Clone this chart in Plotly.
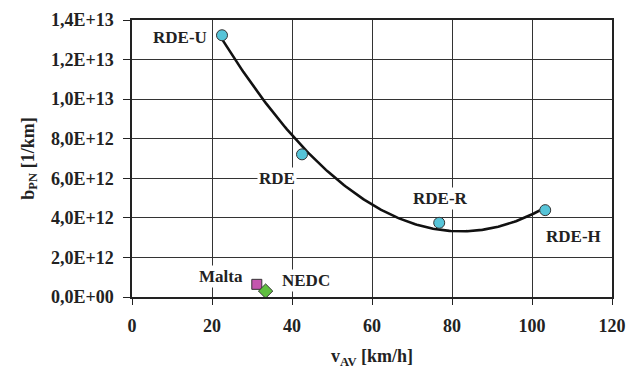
import numpy as np
import plotly.graph_objects as go

# RDE tests (circles)
rde_names = ["RDE-U", "RDE", "RDE-R", "RDE-H"]
rde_v = [22.5, 42.5, 76.8, 103.3]
rde_b = [13.23e12, 7.21e12, 3.75e12, 4.39e12]

# Malta (square)
malta_v = [31.2]
malta_b = [0.64e12]

# NEDC (diamond)
nedc_v = [33.4]
nedc_b = [0.30e12]

y_tickvals = [0, 2e12, 4e12, 6e12, 8e12, 10e12, 12e12, 14e12]
y_ticktext = ["0,0E+00", "2,0E+12", "4,0E+12", "6,0E+12", "8,0E+12", "1,0E+13", "1,2E+13", "1,4E+13"]
x_tickvals = [0, 20, 40, 60, 80, 100, 120]
x_ticktext = ["0", "20", "40", "60", "80", "100", "120"]

FONT = "Liberation Serif"

# 2nd-order polynomial trend line through the RDE points
coef = np.polyfit(rde_v, np.array(rde_b) / 1e12, 2)
xs = np.linspace(min(rde_v), max(rde_v), 200)
ys = np.polyval(coef, xs) * 1e12

fig = go.Figure()
fig.add_trace(go.Scatter(x=xs, y=ys, mode="lines",
                         line=dict(color="#111111", width=2.6), hoverinfo="skip"))
fig.add_trace(go.Scatter(x=rde_v, y=rde_b, mode="markers",
                         marker=dict(symbol="circle", size=11, color="#56C4D8",
                                     line=dict(color="#333333", width=1))))
fig.add_trace(go.Scatter(x=malta_v, y=malta_b, mode="markers",
                         marker=dict(symbol="square", size=10, color="#C455AE",
                                     line=dict(color="#333333", width=1))))
fig.add_trace(go.Scatter(x=nedc_v, y=nedc_b, mode="markers",
                         marker=dict(symbol="diamond", size=11, color="#5FBF3F",
                                     line=dict(color="#333333", width=1))))

label_font = dict(family=FONT, size=17, color="#222222")
shifts = {"RDE-U": (-42, -2), "RDE": (-25, -24), "RDE-R": (1, 24), "RDE-H": (28, -26)}
for n, v, b in zip(rde_names, rde_v, rde_b):
    dx, dy = shifts[n]
    fig.add_annotation(x=v, y=b, text="<b>" + n + "</b>", showarrow=False,
                       xshift=dx, yshift=dy, font=label_font, bgcolor="white")
fig.add_annotation(x=malta_v[0], y=malta_b[0], text="<b>Malta</b>", showarrow=False,
                   xshift=-36, yshift=8, font=label_font, bgcolor="white")
fig.add_annotation(x=nedc_v[0], y=nedc_b[0], text="<b>NEDC</b>", showarrow=False,
                   xshift=40, yshift=11, font=label_font, bgcolor="white")

tick_font = dict(family=FONT, size=18, color="#222222")
fig.update_layout(
    width=629, height=364,
    margin=dict(l=124, r=25, t=12, b=75, autoexpand=False),
    paper_bgcolor="white", plot_bgcolor="white",
    showlegend=False,
    xaxis=dict(range=[0, 120], tickvals=x_tickvals,
               ticktext=["<b>" + t + "</b>" for t in x_ticktext],
               ticks="outside", ticklen=6, tickcolor="#222222", tickwidth=1.2,
               showgrid=True, gridcolor="#333333", gridwidth=1,
               showline=True, linecolor="#222222", linewidth=1.5,
               zeroline=False, tickfont=tick_font, ticklabelstandoff=6,
               title=dict(text="<b>v<sub>AV</sub> [km/h]</b>", font=tick_font, standoff=14)),
    yaxis=dict(range=[0, 14e12], tickvals=y_tickvals,
               ticktext=["<b>" + t + "</b>" for t in y_ticktext],
               ticks="outside", ticklen=7, tickcolor="#222222", tickwidth=1.2,
               showgrid=True, gridcolor="#333333", gridwidth=1,
               showline=True, linecolor="#222222", linewidth=1.5,
               zeroline=False, tickfont=tick_font, ticklabelstandoff=6,
               title=dict(text="<b>b<sub>PN</sub> [1/km]</b>", font=tick_font, standoff=12)),
)
fig.update_xaxes(mirror=True)
fig.update_yaxes(mirror=True)

fig.write_html("out.html")
